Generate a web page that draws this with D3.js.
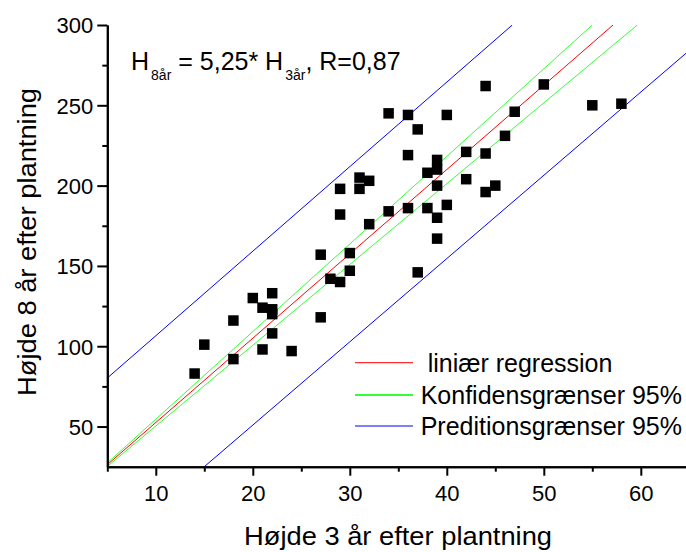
<!DOCTYPE html>
<html>
<head>
<meta charset="utf-8">
<script src="https://d3js.org/d3.v7.min.js"></script>
<style>
	body { margin: 0; background: #fff; }
	svg text { font-family: "Liberation Sans", Arial, sans-serif; fill: #000; }
</style>
</head>
<body>
<script type="text/javascript">
	// hoejde efter 3 aar (x) og efter 8 aar (y), aflaest fra figuren
	var hoejde3 = [14,15,18,18,20,21,21,22,22,22,22,24,27,27,28,29,29,29,30,30,31,31,32,32,34,34,36,36,36,37,37,38,38,39,39,39,39,39,40,40,42,42,44,44,44,45,46,47,50,55,58];
	var hoejde8 = [83,101,116,92,130,124,98,133,123,120,108,97,157,118,142,198,182,140,158,147,205,198,203,176,245,184,244,219,186,235,146,208,186,216,210,200,180,167,244,188,221,204,262,220,196,200,231,246,263,250,251];

	// linjer som endepunkter [x, y]
	var regression = [[5, 26.25], [57.14, 300]];
	var confUpper = [[5, 27.3], [55.0, 300]];
	var confLower = [[5, 25.15], [59.64, 300]];
	var predUpper = [[5, 80.2], [46.75, 300]];
	var predLower = [[15, 25], [64.7, 282.6]];

	var legendNames = [" liniær regression", "Konfidensgrænser 95%", "Preditionsgrænser 95%"];
	var legendColors = ["#ff0000", "#33ff33", "#0000ff"];

	var xTicks = [10, 20, 30, 40, 50, 60];
	var xMinor = [5, 15, 25, 35, 45, 55, 65];
	var yTicks = [50, 100, 150, 200, 250, 300];
	var yMinor = [75, 125, 175, 225, 275];

	var w = 686, h = 552;
	var svg = d3.select("body").append("svg").attr("width", w).attr("height", h);

	var xScale = d3.scaleLinear().domain([5, 65]).range([107.3, 689.3]);
	var yScale = d3.scaleLinear().domain([25, 300]).range([466.7, 25]);

	svg.append("clipPath").attr("id", "plot")
		.append("rect")
		.attr("x", xScale(5)).attr("y", yScale(300))
		.attr("width", xScale(65) - xScale(5))
		.attr("height", yScale(25) - yScale(300));

	var line = d3.line().x(function(d){return xScale(d[0]);}).y(function(d){return yScale(d[1]);});

	var lines = [
		{pts: predUpper, color: legendColors[2]},
		{pts: predLower, color: legendColors[2]},
		{pts: confUpper, color: legendColors[1]},
		{pts: confLower, color: legendColors[1]},
		{pts: regression, color: legendColors[0]}
	];

	svg.append("g").attr("clip-path", "url(#plot)")
		.selectAll("path")
		.data(lines)
		.enter()
		.append("path")
		.attr("d", function(d){return line(d.pts);})
		.attr("fill", "none")
		.attr("stroke", function(d){return d.color;})
		.attr("stroke-width", 1);

	var sq = 10.5;
	svg.append("g")
		.selectAll("rect")
		.data(d3.range(hoejde3.length))
		.enter()
		.append("rect")
		.attr("x", function(i){return xScale(hoejde3[i]) - sq / 2;})
		.attr("y", function(i){return yScale(hoejde8[i]) - sq / 2;})
		.attr("width", sq)
		.attr("height", sq)
		.attr("fill", "#000");

	// akser
	var xAxis = svg.append("g").attr("transform", "translate(0," + yScale(25) + ")")
		.call(d3.axisBottom(xScale).tickValues(xTicks).tickSize(9).tickSizeOuter(0).tickPadding(10));
	var xAxisMinor = svg.append("g").attr("transform", "translate(0," + yScale(25) + ")")
		.call(d3.axisBottom(xScale).tickValues(xMinor).tickSize(5).tickSizeOuter(0).tickFormat(""));
	var yAxis = svg.append("g").attr("transform", "translate(" + xScale(5) + ",0)")
		.call(d3.axisLeft(yScale).tickValues(yTicks).tickSize(10).tickSizeOuter(0).tickPadding(4));
	var yAxisMinor = svg.append("g").attr("transform", "translate(" + xScale(5) + ",0)")
		.call(d3.axisLeft(yScale).tickValues(yMinor).tickSize(5).tickSizeOuter(0).tickFormat(""));

	svg.selectAll(".domain, .tick line").attr("stroke", "#000").attr("stroke-width", 2);
	svg.selectAll(".tick text").style("font-size", "22px").attr("fill", "#000");
	yAxis.selectAll(".tick text").attr("dy", "0.36em");
	xAxis.selectAll(".tick text").attr("dy", "0.71em");

	// aksetitler
	svg.append("text")
		.attr("x", 398).attr("y", 545)
		.attr("text-anchor", "middle")
		.style("font-size", "25px")
		.attr("textLength", 308).attr("lengthAdjust", "spacingAndGlyphs")
		.text("Højde 3 år efter plantning");

	svg.append("text")
		.attr("transform", "translate(36,242) rotate(-90)")
		.attr("text-anchor", "middle")
		.style("font-size", "25px")
		.attr("textLength", 308).attr("lengthAdjust", "spacingAndGlyphs")
		.text("Højde 8 år efter plantning");

	// ligning
	var eq = svg.append("text").attr("x", 131).attr("y", 70).style("font-size", "25px");
	eq.append("tspan").text("H");
	eq.append("tspan").attr("dy", 10).attr("dx", 2).style("font-size", "14px").text("8år");
	eq.append("tspan").attr("dy", -10).text(" = 5,25* H");
	eq.append("tspan").attr("dy", 10).attr("dx", 2).style("font-size", "14px").text("3år");
	eq.append("tspan").attr("dy", -10).text(", R=0,87");

	// legende
	var legendY = [362.7, 395, 426];
	var legend = svg.append("g");
	legend.selectAll("line")
		.data(legendNames)
		.enter()
		.append("line")
		.attr("x1", 355).attr("x2", 413)
		.attr("y1", function(d,i){return legendY[i];})
		.attr("y2", function(d,i){return legendY[i];})
		.attr("stroke", function(d,i){return legendColors[i];})
		.attr("stroke-width", function(d,i){return i == 1 ? 2 : 1;});
	legend.selectAll("text")
		.data(legendNames)
		.enter()
		.append("text")
		.attr("x", 420.7)
		.attr("y", function(d,i){return legendY[i] + 9;})
		.style("font-size", "25px")
		.style("white-space", "pre")
		.attr("xml:space", "preserve")
		.text(function(d){return d;});
</script>
</body>
</html>
